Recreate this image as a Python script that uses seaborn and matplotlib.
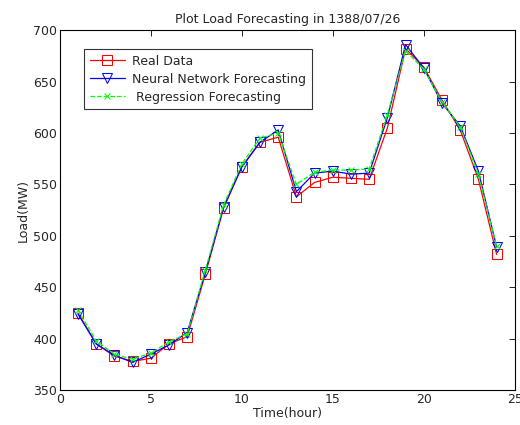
import seaborn as sns
import pandas as pd
import matplotlib.pyplot as plt

# Data
hours = list(range(1, 25))
real_data = [425, 395, 383, 378, 381, 395, 402, 463, 527, 567, 591, 596,
             538, 552, 557, 556, 555, 605, 682, 664, 632, 603, 555, 482]
neural_fc = [424, 395, 384, 377, 385, 394, 406, 465, 528, 567, 591, 603,
             543, 561, 563, 560, 561, 615, 686, 663, 629, 607, 563, 489]
regress_fc = [428, 398, 385, 380, 386, 397, 405, 467, 530, 570, 595, 600,
              550, 562, 564, 564, 565, 618, 680, 662, 630, 606, 560, 490]

df = pd.DataFrame({"hour": hours, "real": real_data,
                   "neural": neural_fc, "regress": regress_fc})

sns.set_style("white")
plt.rcParams["font.family"] = ["DejaVu Sans"]
plt.rcParams["xtick.direction"] = "in"
plt.rcParams["ytick.direction"] = "in"

fig = plt.figure(figsize=(5.2, 4.25), dpi=100)
ax = fig.add_axes([0.115, 0.082, 0.875, 0.847])

sns.lineplot(data=df, x="hour", y="real", ax=ax, color="red", lw=0.9,
             marker="s", markersize=6.5, markerfacecolor="none",
             markeredgecolor="red", label="Real Data")
sns.lineplot(data=df, x="hour", y="neural", ax=ax, color="blue", lw=0.9,
             marker="v", markersize=7, markerfacecolor="none",
             markeredgecolor="blue", label="Neural Network Forecasting")
sns.lineplot(data=df, x="hour", y="regress", ax=ax, color="#00ff00", lw=0.9,
             ls="--", marker="x", markersize=4, markeredgecolor="#00ff00",
             label=" Regression Forecasting")

ax.set_xlim(0, 25)
ax.set_ylim(350, 700)
ax.set_xticks(range(0, 26, 5))
ax.set_yticks(range(350, 701, 50))
ax.tick_params(axis="both", labelsize=9, length=4, width=0.6,
               top=True, right=True, color="black", pad=2)
for s in ax.spines.values():
    s.set_color("black")
    s.set_linewidth(0.8)

ax.set_title("Plot Load Forecasting in 1388/07/26", fontsize=9, pad=5)
ax.set_xlabel("Time(hour)", fontsize=9, labelpad=1)
ax.set_ylabel("Load(MW)", fontsize=9, labelpad=2)

leg = ax.legend(loc="upper left", bbox_to_anchor=(0.04, 0.965), fontsize=9,
                frameon=True, fancybox=False, borderpad=0.45,
                handlelength=2.8, handletextpad=0.6, labelspacing=0.4)
leg.get_frame().set_edgecolor("black")
leg.get_frame().set_linewidth(0.8)

fig.savefig("out.png", dpi=100)
